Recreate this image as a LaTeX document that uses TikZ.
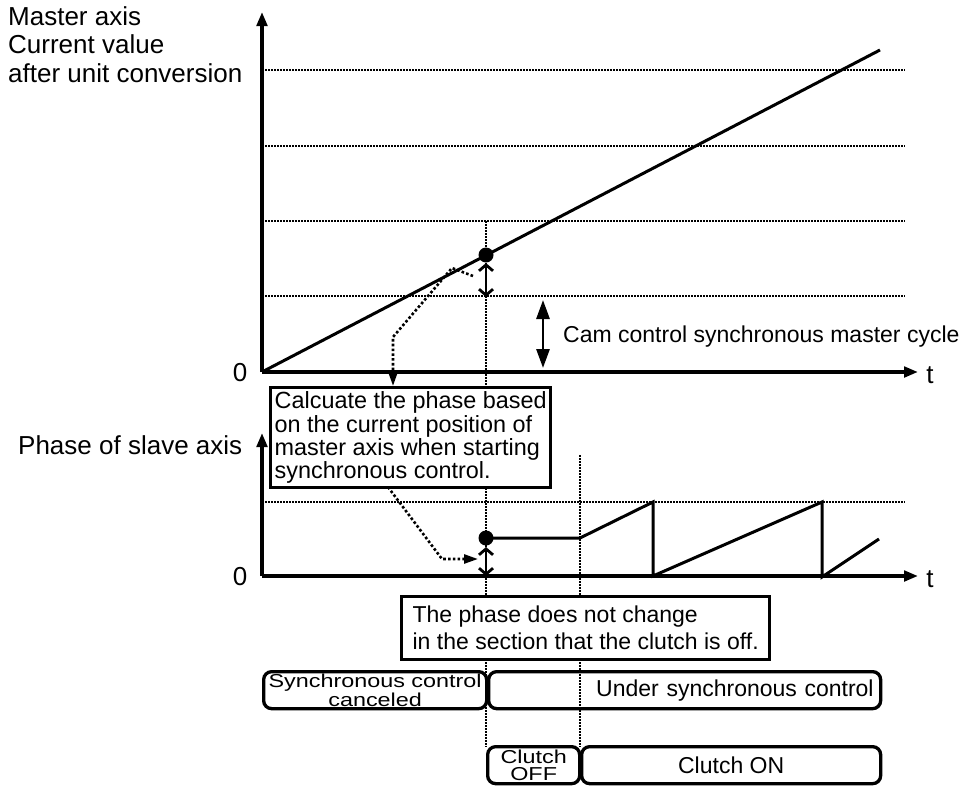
\documentclass[tikz,border=0pt]{standalone}
\usepackage{fontspec}
\setmainfont{Liberation Sans}
\newfontfamily\sqfont[FakeStretch=1.25]{Liberation Sans}
\usetikzlibrary{arrows.meta}
\begin{document}
\begin{tikzpicture}[x=1pt,y=-1pt,
  axis/.style={line width=3.4pt,-{Triangle[length=14pt,width=10.5pt]}},
  curve/.style={line width=3pt, line join=miter},
  grid/.style={line width=1.6pt, dash pattern=on 1.6pt off 1.4pt},
  lead/.style={line width=2.6pt, dash pattern=on 2.6pt off 2.2pt, -{Triangle[length=14pt,width=9pt]}},
  dbl/.style={line width=2.8pt, {Straight Barb[length=6pt,width=14pt]}-{Straight Barb[length=6pt,width=14pt]}},
  bigdbl/.style={line width=2.8pt,{Triangle[length=19pt,width=13pt]}-{Triangle[length=19pt,width=13pt]}},
  txt/.style={inner sep=0pt, font=\fontsize{23}{27}\selectfont},
  axtxt/.style={inner sep=0pt, font=\fontsize{26}{28.5}\selectfont},
  note/.style={draw, line width=3.3pt, fill=white, inner sep=0pt, align=left},
  state/.style={draw, line width=3.3pt, rounded corners=8pt, inner sep=0pt},
  sq/.style={font=\sqfont\fontsize{18.7}{17}\selectfont, align=center},
  dot/.style={circle, fill, inner sep=0pt, minimum size=15pt}
]
\useasboundingbox (0,0) rectangle (967,785);

% ---------- grid lines ----------
\foreach \yy in {70,146,221,296,502} \draw[grid] (262,\yy) -- (905,\yy);
\coordinate (v1t) at (486,221);
\coordinate (v1b) at (486,747);
\coordinate (v2t) at (580,455);
\coordinate (v2b) at (580,747);
\draw[grid] (v1t) -- (v1b);
\draw[grid] (v2t) -- (v2b);

% ---------- upper graph ----------
\coordinate (O1) at (262,372);
\coordinate (Y1) at (262,12);
\coordinate (X1) at (918,372);
\draw[axis] (O1) -- (Y1);
\draw[axis] (O1) -- (X1);
\coordinate (M1) at (880,50);
\draw[curve] (O1) -- (M1);
\node[dot] (p1) at (486,255) {};
\coordinate (a1t) at (486,263);
\coordinate (a1b) at (486,297);
\draw[dbl] (a1t) -- (a1b);
\coordinate (c1t) at (543,300);
\coordinate (c1b) at (543,368);
\draw[bigdbl] (c1t) -- (c1b);

\node[axtxt, anchor=north west, align=left] (mlab) at (8,6.4) {Master axis\\Current value\\after unit conversion};
\node[axtxt] (z1) at (240,373) {0};
\node[axtxt] (t1) at (930,375) {t};
\node[txt, anchor=base west] (cam) at (563,342) {Cam control synchronous master cycle};

% ---------- lower graph ----------
\coordinate (O2) at (262,576);
\coordinate (Y2) at (262,433);
\coordinate (X2) at (918,576);
\draw[axis] (O2) -- (Y2);
\draw[axis] (O2) -- (X2);
\node[dot] (p2) at (486,538) {};
\coordinate (s1) at (580,538);
\coordinate (s2) at (653,502);
\coordinate (s3) at (653,576);
\coordinate (s4) at (822,502);
\coordinate (s5) at (822,577);
\coordinate (s6) at (879,539);
\draw[curve] (p2.center) -- (s1) -- (s2) -- (s3) -- (s4) -- (s5) -- (s6);
\coordinate (a2t) at (486,547);
\coordinate (a2b) at (486,576);
\draw[dbl] (a2t) -- (a2b);

\node[axtxt] (z2) at (240,577) {0};
\node[axtxt] (t2) at (930,579) {t};
\node[axtxt, anchor=base west] (plab) at (18,454) {Phase of slave axis};

% ---------- callouts ----------
\node[note, anchor=north west, minimum width=280pt, minimum height=100pt,
      font=\fontsize{23.4}{23.3}\selectfont] (calc) at (269,386)
  {Calcuate the phase based\\on the current position of\\master axis when starting\\synchronous control.};
\coordinate (l1a) at (473,276);
\coordinate (l1b) at (452,268);
\coordinate (l1c) at (393,337);
\draw[lead] (l1a) -- (l1b) -- (l1c) -- (calc.north -| l1c);
\coordinate (l2a) at (388,487);
\coordinate (l2b) at (442,559);
\coordinate (l2c) at (478,559);
\draw[lead] (l2a) -- (l2b) -- (l2c);

\node[note, anchor=north west, minimum width=368pt, minimum height=63pt,
      font=\fontsize{23}{27}\selectfont] (phase) at (400,595)
  {The phase does not change\\in the section that the clutch is off.};

% ---------- state bars ----------
\node[state, sq, anchor=north west, minimum width=223pt, minimum height=37pt] (cancel) at (262,670)
  {Synchronous control\\canceled};
\node[state, txt, anchor=north west, minimum width=392pt, minimum height=37pt,
      text width=378pt, align=right, inner xsep=7pt] (under) at (487,670)
  {Under synchronous control};
\node[state, sq, anchor=north west, minimum width=92pt, minimum height=37pt] (coff) at (486,745)
  {Clutch\\OFF};
\node[state, txt, anchor=north west, minimum width=299pt, minimum height=37pt] (con) at (580,745)
  {Clutch ON};
\end{tikzpicture}
\end{document}
